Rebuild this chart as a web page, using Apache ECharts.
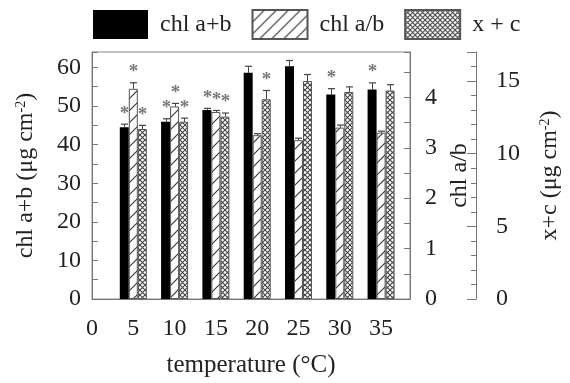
<!DOCTYPE html>
<html><head><meta charset="utf-8">
<script src="https://cdn.jsdelivr.net/npm/echarts@6/dist/echarts.min.js"></script>
<style>html,body{margin:0;padding:0;background:#fff}#c{width:570px;height:383px}</style>
</head><body><div id="c"></div>
<script>
var temps = [5, 10, 15, 20, 25, 30, 35];
var chlTotal = [44.5, 45.9, 49.0, 58.6, 60.3, 53.0, 54.3];
var chlTotalErr = [0.8, 0.8, 0.4, 1.7, 1.5, 1.5, 1.7];
var chlTotalSig = [1, 1, 1, 0, 0, 1, 1];
var chlRatio = [4.17, 3.82, 3.71, 3.25, 3.15, 3.40, 3.30];
var chlRatioErr = [0.12, 0.06, 0.03, 0.03, 0.04, 0.05, 0.03];
var chlRatioSig = [1, 1, 1, 0, 0, 0, 0];
var xc = [11.7, 12.2, 12.55, 13.75, 15.0, 14.25, 14.35];
var xcErr = [0.25, 0.25, 0.25, 0.6, 0.45, 0.35, 0.4];
var xcSig = [1, 1, 1, 1, 0, 0, 0];
var leftTicks = [0, 10, 20, 30, 40, 50, 60];
var ratioTicks = [0, 1, 2, 3, 4];
var xcTicks = [0, 5, 10, 15];

var FONT = '"Liberation Serif", "Times New Roman", serif';
var AX = '#777';

function hatchPattern() {
  var c = document.createElement('canvas'); c.width = 12; c.height = 12;
  var g = c.getContext('2d');
  g.fillStyle = '#fff'; g.fillRect(0, 0, 12, 12);
  g.strokeStyle = '#333'; g.lineWidth = 1.1;
  g.beginPath();
  g.moveTo(-1, 13); g.lineTo(13, -1);
  g.moveTo(-13, 13); g.lineTo(1, -1);
  g.moveTo(11, 13); g.lineTo(25, -1);
  g.stroke();
  return c;
}
function crossPattern() {
  var c = document.createElement('canvas'); c.width = 5; c.height = 5;
  var g = c.getContext('2d');
  g.fillStyle = '#fff'; g.fillRect(0, 0, 5, 5);
  g.strokeStyle = '#444'; g.lineWidth = 1.1;
  g.beginPath();
  g.moveTo(0, 0); g.lineTo(5, 5);
  g.moveTo(5, 0); g.lineTo(0, 5);
  g.stroke();
  return c;
}

function pairs(vals) { return temps.map(function (t, i) { return [t, vals[i]]; }); }
function errData(vals, errs, sig) { return temps.map(function (t, i) { return [t, vals[i], vals[i] + errs[i], sig[i]]; }); }

function errSeries(name, yIdx, data, offset) {
  return {
    type: 'custom', name: name + '_err', xAxisIndex: 0, yAxisIndex: yIdx, z: 5,
    data: data, silent: true,
    renderItem: function (params, api) {
      var x = api.value(0);
      var p0 = api.coord([x, api.value(1)]);
      var p1 = api.coord([x, api.value(2)]);
      var px = Math.round(p0[0] + offset) + 0.5;
      var ch = [
        { type: 'line', shape: { x1: px, y1: p0[1], x2: px, y2: p1[1] }, style: { stroke: '#444', lineWidth: 1 } },
        { type: 'line', shape: { x1: px - 3.5, y1: p1[1], x2: px + 3.5, y2: p1[1] }, style: { stroke: '#444', lineWidth: 1.2 } }
      ];
      if (api.value(3)) {
        ch.push({ type: 'text', x: px, y: p1[1] - 1, style: { text: '*', fill: '#777', font: 'bold 19px ' + FONT, align: 'center', verticalAlign: 'bottom' } });
      }
      return { type: 'group', children: ch };
    }
  };
}

var chart = echarts.init(document.getElementById('c'), null, { renderer: 'canvas' });
var labelStyle = { fontFamily: FONT, fontSize: 24, color: '#222' };
var nameStyle = { fontFamily: FONT, fontSize: 24, color: '#222' };

chart.setOption({
  animation: false,
  textStyle: { fontFamily: FONT },
  legend: {
    left: 88, top: 4, itemWidth: 55, itemHeight: 29, itemGap: 20,
    icon: 'rect',
    textStyle: { fontFamily: FONT, fontSize: 24, color: '#222', padding: [0, 0, 0, 7] },
    data: ['chl a+b', 'chl a/b', 'x + c']
  },
  grid: { left: 92, right: 143, top: 52, bottom: 83, show: true, borderColor: '#888', borderWidth: 1, backgroundColor: 'transparent' },
  xAxis: {
    type: 'value', min: 0, max: 38.5, interval: 5,
    name: 'temperature (°C)', nameLocation: 'middle', nameGap: 54,
    nameTextStyle: { fontFamily: FONT, fontSize: 25, color: '#222' },
    axisLine: { show: true, lineStyle: { color: AX } },
    axisTick: { show: false },
    splitLine: { show: false },
    axisLabel: Object.assign({ margin: 18, showMaxLabel: false, showMinLabel: true }, labelStyle)
  },
  yAxis: [
    {
      type: 'value', position: 'left', min: 0, max: 64, interval: 10,
      name: '{a|chl a+b (μg cm}{s|-2}{a|)}', nameLocation: 'middle', nameRotate: 90, nameGap: 54,
      nameTextStyle: { rich: { a: { fontFamily: FONT, fontSize: 24, color: '#222' }, s: { fontFamily: FONT, fontSize: 14, color: '#222', verticalAlign: 'top', padding: [0, 0, 10, 0] } } },
      axisLine: { show: true, lineStyle: { color: AX } },
      axisTick: { show: true, inside: true, length: 6, lineStyle: { color: AX } },
      minorTick: { show: true, splitNumber: 2, length: 6, lineStyle: { color: AX } },
      splitLine: { show: false },
      axisLabel: Object.assign({ margin: 11, showMaxLabel: false }, labelStyle)
    },
    {
      type: 'value', position: 'right', min: 0, max: 4.9, interval: 1,
      name: 'chl a/b', nameLocation: 'middle', nameRotate: 90, nameGap: 36,
      nameTextStyle: nameStyle,
      axisLine: { show: true, lineStyle: { color: AX } },
      axisTick: { show: true, inside: true, length: 6, lineStyle: { color: AX } },
      minorTick: { show: true, splitNumber: 2, length: 6, lineStyle: { color: AX } },
      splitLine: { show: false },
      axisLabel: Object.assign({ margin: 15, showMaxLabel: false }, labelStyle)
    },
    {
      type: 'value', position: 'right', offset: 66, min: 0, max: 17, interval: 5,
      name: '{a|x+c (μg cm}{s|-2}{a|)}', nameLocation: 'middle', nameRotate: 90, nameGap: 62,
      nameTextStyle: { rich: { a: { fontFamily: FONT, fontSize: 24, color: '#222' }, s: { fontFamily: FONT, fontSize: 14, color: '#222', verticalAlign: 'top', padding: [0, 0, 10, 0] } } },
      axisLine: { show: true, lineStyle: { color: AX } },
      axisTick: { show: true, inside: true, length: 9, lineStyle: { color: AX } },
      minorTick: { show: true, splitNumber: 5, length: 5, lineStyle: { color: AX } },
      splitLine: { show: false },
      axisLabel: Object.assign({ margin: 20, showMaxLabel: false }, labelStyle)
    }
  ],
  series: [
    { type: 'bar', name: 'chl a+b', xAxisIndex: 0, yAxisIndex: 0, barWidth: 9, barGap: '0%', data: pairs(chlTotal),
      itemStyle: { color: '#000', borderColor: '#000', borderWidth: 0 } },
    { type: 'bar', name: 'chl a/b', xAxisIndex: 0, yAxisIndex: 1, barWidth: 9, barGap: '0%', data: pairs(chlRatio),
      itemStyle: { color: { image: hatchPattern(), repeat: 'repeat' }, borderColor: '#555', borderWidth: 1 } },
    { type: 'bar', name: 'x + c', xAxisIndex: 0, yAxisIndex: 2, barWidth: 9, barGap: '0%', data: pairs(xc),
      itemStyle: { color: { image: crossPattern(), repeat: 'repeat' }, borderColor: '#555', borderWidth: 1 } },
    errSeries('chl a+b', 0, errData(chlTotal, chlTotalErr, chlTotalSig), -9),
    errSeries('chl a/b', 1, errData(chlRatio, chlRatioErr, chlRatioSig), 0),
    errSeries('x + c', 2, errData(xc, xcErr, xcSig), 9)
  ]
});
</script>
</body></html>
